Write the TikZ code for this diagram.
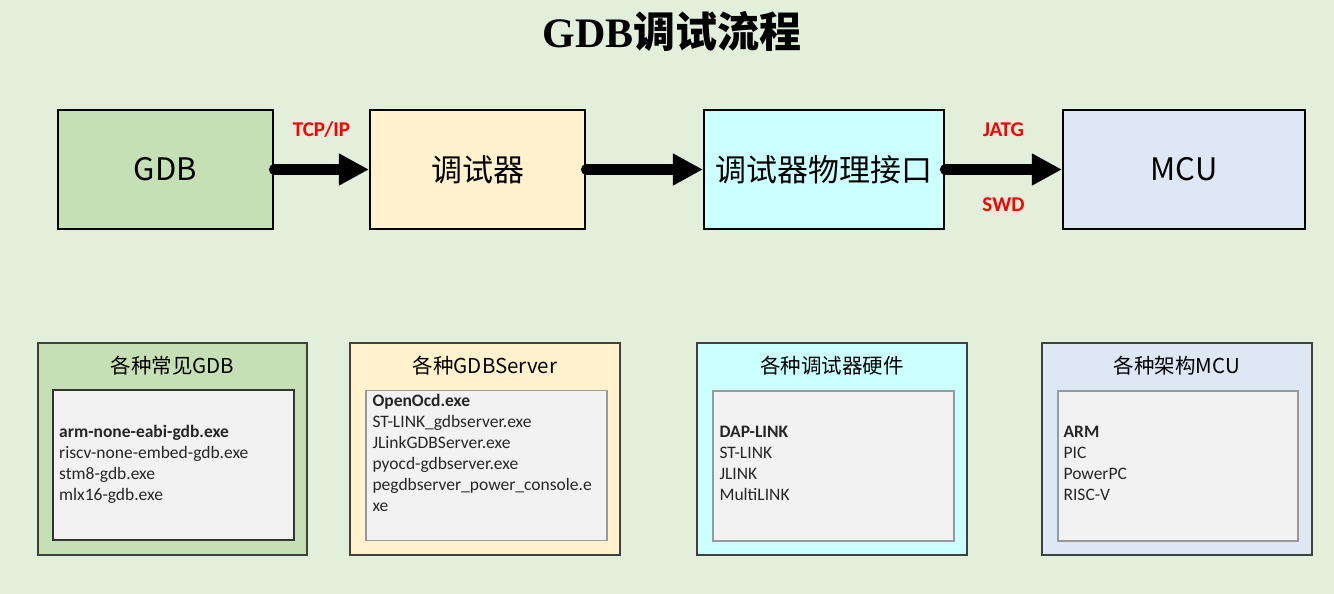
\documentclass[tikz,border=0pt]{standalone}
\usepackage{fontspec}
\setmainfont{Carlito}
\newfontfamily\cjk{Noto Sans CJK SC}
\newfontfamily\ttlfont{Liberation Serif}
\usetikzlibrary{arrows.meta,calc}
\definecolor{bgc}{HTML}{E2EFDA}
\definecolor{cgreen}{HTML}{C5E0B4}
\definecolor{cyellow}{HTML}{FFF2CC}
\definecolor{ccyan}{HTML}{CCFFFF}
\definecolor{cblue}{HTML}{DEE7F4}
\definecolor{cinner}{HTML}{F2F2F2}
\tikzset{
  topbox/.style={draw=black, line width=2.2pt, minimum height=119pt, inner sep=0pt,
    font=\cjk\fontsize{31}{36}\selectfont},
  outerbox/.style={draw=black!75, line width=1.5pt, minimum height=212pt, minimum width=270pt, inner sep=0pt},
  innerbox/.style={draw=black!40, line width=1.3pt, fill=cinner, minimum height=150pt, minimum width=241pt, inner sep=0pt},
  grouptitle/.style={font=\cjk\fontsize{20.5}{24}\selectfont, inner sep=0pt},
  listtext/.style={anchor=north west, align=left, inner sep=0pt, font=\fontsize{17.5}{21}\selectfont, text=black!85},
  fatarrow/.style={line width=10.5pt, line cap=round, -{Triangle[length=30pt,width=30pt]}},
  redlabel/.style={text=red, font=\bfseries\fontsize{21}{24}\selectfont, inner sep=0pt}
}
\begin{document}
\begin{tikzpicture}[x=1pt,y=-1pt]
\useasboundingbox (0,0) rectangle (1334,594);
\fill[bgc] (0,0) rectangle (1334,594);
\node[inner sep=0pt, font=\fontsize{42}{48}\selectfont] (title) at (672,31) {{\ttlfont\bfseries GDB}{\cjk\bfseries 调试流程}};

\node[topbox, fill=cgreen, minimum width=215pt] (gdb) at (165.5,169.5) {GDB};
\node[topbox, fill=cyellow, minimum width=215pt] (dbg) at (477.5,169.5) {调试器};
\node[topbox, fill=ccyan, minimum width=240pt] (phys) at (824,169.5) {调试器物理接口};
\node[topbox, fill=cblue, minimum width=242pt] (mcu) at (1184,169.5) {MCU};

\draw[fatarrow] (gdb.east) -- (dbg.west) node[midway, redlabel, yshift=40pt] (tcp) {TCP/IP};
\draw[fatarrow] (dbg.east) -- (phys.west);
\draw[fatarrow] (phys.east) -- (mcu.west)
  node[midway, redlabel, yshift=40pt] (jatg) {JATG}
  node[midway, redlabel, yshift=-35pt] (swd) {SWD};

\node[outerbox, fill=cgreen, minimum width=269pt] (o1) at (172.5,449) {};
\node[outerbox, fill=cyellow] (o2) at (485,449) {};
\node[outerbox, fill=ccyan] (o3) at (832,449) {};
\node[outerbox, fill=cblue] (o4) at (1177,449) {};

\node[grouptitle] (t1) at ($(o1.north)+(0,23)$) {各种常见GDB};
\node[grouptitle] (t2) at ($(o2.north)+(0,23)$) {各种GDBServer};
\node[grouptitle] (t3) at ($(o3.north)+(0,23)$) {各种调试器硬件};
\node[grouptitle] (t4) at ($(o4.north)+(0,23)$) {各种架构MCU};

\node[innerbox, draw=black!80, line width=2pt] (i1) at (173.5,465) {};
\node[innerbox] (i2) at (486.5,465.5) {};
\node[innerbox] (i3) at (833.5,466) {};
\node[innerbox, minimum width=240pt] (i4) at (1178,466) {};

\node[listtext] (l1) at ($(i1.north west)+(7,36)$) {\textbf{arm-none-eabi-gdb.exe}\\riscv-none-embed-gdb.exe\\stm8-gdb.exe\\mlx16-gdb.exe};
\node[listtext] (l2) at ($(i2.north west)+(7,4)$) {\textbf{OpenOcd.exe}\\ST-LINK\_gdbserver.exe\\JLinkGDBServer.exe\\pyocd-gdbserver.exe\\pegdbserver\_power\_console.e\\xe};
\node[listtext] (l3) at ($(i3.north west)+(7,36)$) {\textbf{DAP-LINK}\\ST-LINK\\JLINK\\MultiLINK};
\node[listtext] (l4) at ($(i4.north west)+(6,36)$) {\textbf{ARM}\\PIC\\PowerPC\\RISC-V};
\end{tikzpicture}
\end{document}
